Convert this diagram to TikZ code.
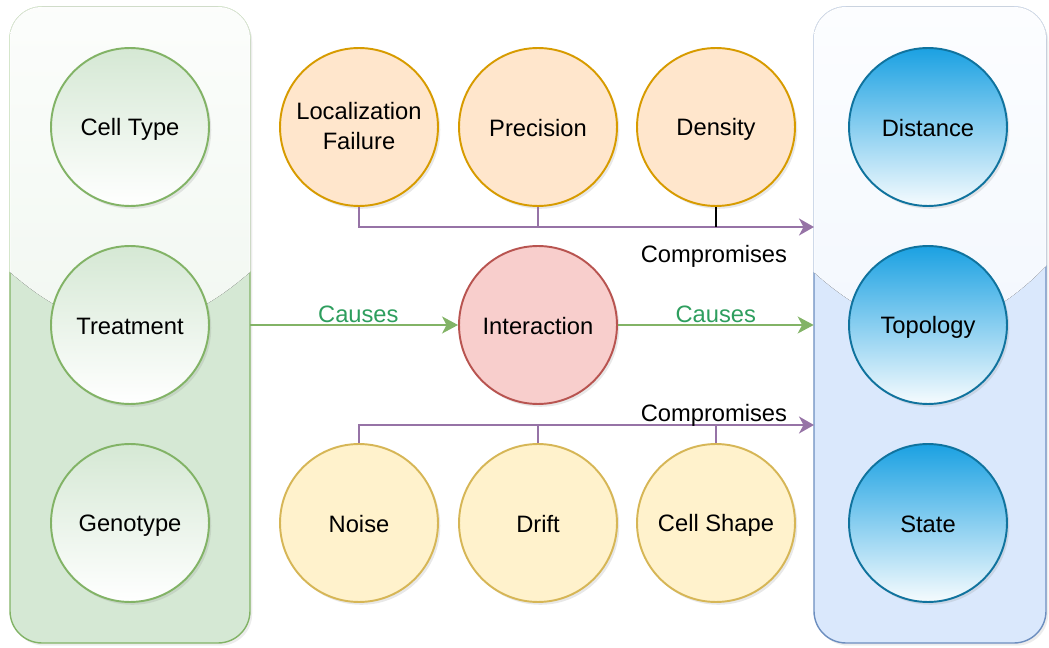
\documentclass[tikz,border=0pt]{standalone}
\usepackage{fontspec}
\setmainfont{Liberation Sans}
\usetikzlibrary{arrows.meta,shadows}

\definecolor{greenfill}{HTML}{D5E8D4}
\definecolor{greenline}{HTML}{82B366}
\definecolor{bluefill}{HTML}{DAE8FC}
\definecolor{blueline}{HTML}{6C8EBF}
\definecolor{outtop}{HTML}{1BA1E2}
\definecolor{outline}{HTML}{10739E}
\definecolor{orangefill}{HTML}{FFE6CC}
\definecolor{orangeline}{HTML}{D79B00}
\definecolor{redfill}{HTML}{F8CECC}
\definecolor{redline}{HTML}{B85450}
\definecolor{yellowfill}{HTML}{FFF2CC}
\definecolor{yellowline}{HTML}{D6B656}
\definecolor{purpleline}{HTML}{9673A6}
\definecolor{causestext}{HTML}{2E9E5E}

\newcommand\capstrut{\rule[-1.56pt]{0pt}{13.5pt}}

\begin{document}
\begin{tikzpicture}[x=0.02cm,y=-0.02cm,
font=\fontsize{13.5}{17.2}\selectfont,
circ/.style={circle,line width=1.1pt,minimum size=3.16cm,inner sep=0pt,align=center,
  execute at begin node=\capstrut,execute at end node=\capstrut,
  drop shadow={opacity=0.18,shadow xshift=1.3pt,shadow yshift=-1.6pt}},
factor/.style={circ,draw=greenline,top color=greenfill,bottom color=white},
outcome/.style={circ,draw=outline,top color=outtop,bottom color=outtop!4},
error/.style={circ,draw=orangeline,fill=orangefill},
nuisance/.style={circ,draw=yellowline,fill=yellowfill},
mediator/.style={circ,draw=redline,fill=redfill},
panel/.style={rectangle,rounded corners=0.64cm,minimum width=#1,minimum height=12.72cm,inner sep=0pt,
  drop shadow={opacity=0.15,shadow xshift=1.3pt,shadow yshift=-1.6pt}},
causeedge/.style={draw=greenline,line width=1.1pt,-{Stealth[length=0.32cm,width=0.34cm,inset=0.09cm]}},
compedge/.style={draw=purpleline,line width=1.1pt},
comparrow/.style={compedge,-{Stealth[length=0.3cm,width=0.34cm,inset=0.09cm]}}]

\useasboundingbox (0,0) rectangle (1049,648);

\node (LEFTBOX) at (130,325) [panel=4.8cm,fill=greenfill] {};
\draw[greenline,line width=0.8pt,rounded corners=0.64cm] (10,7) rectangle (250,643);
\begin{scope}
\clip (0,0) -- (260,0) -- (260,263) .. controls (170,347.7) and (90,347.7) .. (0,263) -- cycle;
\fill[top color=white!92!greenfill,bottom color=white!45!greenfill,rounded corners=0.64cm]
  (10,7) rectangle (250,643);
\draw[white,opacity=.75,line width=0.8pt,rounded corners=0.64cm] (10,7) rectangle (250,643);
\end{scope}

\node (RIGHTBOX) at (930,325) [panel=4.64cm,fill=bluefill] {};
\draw[blueline,line width=0.8pt,rounded corners=0.64cm] (814,7) rectangle (1046,643);
\begin{scope}
\clip (804,0) -- (1049,0) -- (1049,263) .. controls (968.7,347.7) and (891.3,347.7) .. (804,263) -- cycle;
\fill[top color=white!92!bluefill,bottom color=white!45!bluefill,rounded corners=0.64cm]
  (814,7) rectangle (1046,643);
\draw[white,opacity=.75,line width=0.8pt,rounded corners=0.64cm] (814,7) rectangle (1046,643);
\end{scope}

\node (CELLTYPE) at (130,127) [factor] {Cell Type};
\node (TREATMENT) at (130,325) [factor] {Treatment};
\node (GENOTYPE) at (130,523) [factor] {Genotype};

\node (LOCFAIL) at (359,127) [error] {Localization\\Failure};
\node (PRECISION) at (538,127) [error] {Precision};
\node (DENSITY) at (716,127) [error] {Density};

\node (INTERACTION) at (538,325) [mediator] {Interaction};

\node (NOISE) at (359,523) [nuisance] {Noise};
\node (DRIFT) at (538,523) [nuisance] {Drift};
\node (CELLSHAPE) at (716,523) [nuisance] {Cell Shape};

\node (DISTANCE) at (928,127) [outcome] {Distance};
\node (TOPOLOGY) at (928,325) [outcome] {Topology};
\node (STATE) at (928,523) [outcome] {State};

\coordinate (TOPIN) at (814,227);
\coordinate (BOTIN) at (814,425);

\draw[causeedge] (LEFTBOX.east) -- node[pos=.52,anchor=base,yshift=1.7pt,text=causestext] {Causes} (INTERACTION);
\draw[causeedge] (INTERACTION) -- node[pos=.5,anchor=base,yshift=1.7pt,text=causestext] {Causes} (RIGHTBOX.west);

\draw[comparrow] (LOCFAIL.south) |- node[pos=.89,anchor=base,yshift=-20.4pt] {Compromises} (TOPIN);
\draw[compedge] (PRECISION.south) -- (PRECISION.south |- TOPIN);
\draw[black,line width=0.8pt] (DENSITY.south) -- (DENSITY.south |- TOPIN);

\draw[comparrow] (NOISE.north) |- node[pos=.89,anchor=base,yshift=2pt] {Compromises} (BOTIN);
\draw[compedge] (DRIFT.north) -- (DRIFT.north |- BOTIN);
\draw[compedge] (CELLSHAPE.north) -- (CELLSHAPE.north |- BOTIN);

\end{tikzpicture}
\end{document}
